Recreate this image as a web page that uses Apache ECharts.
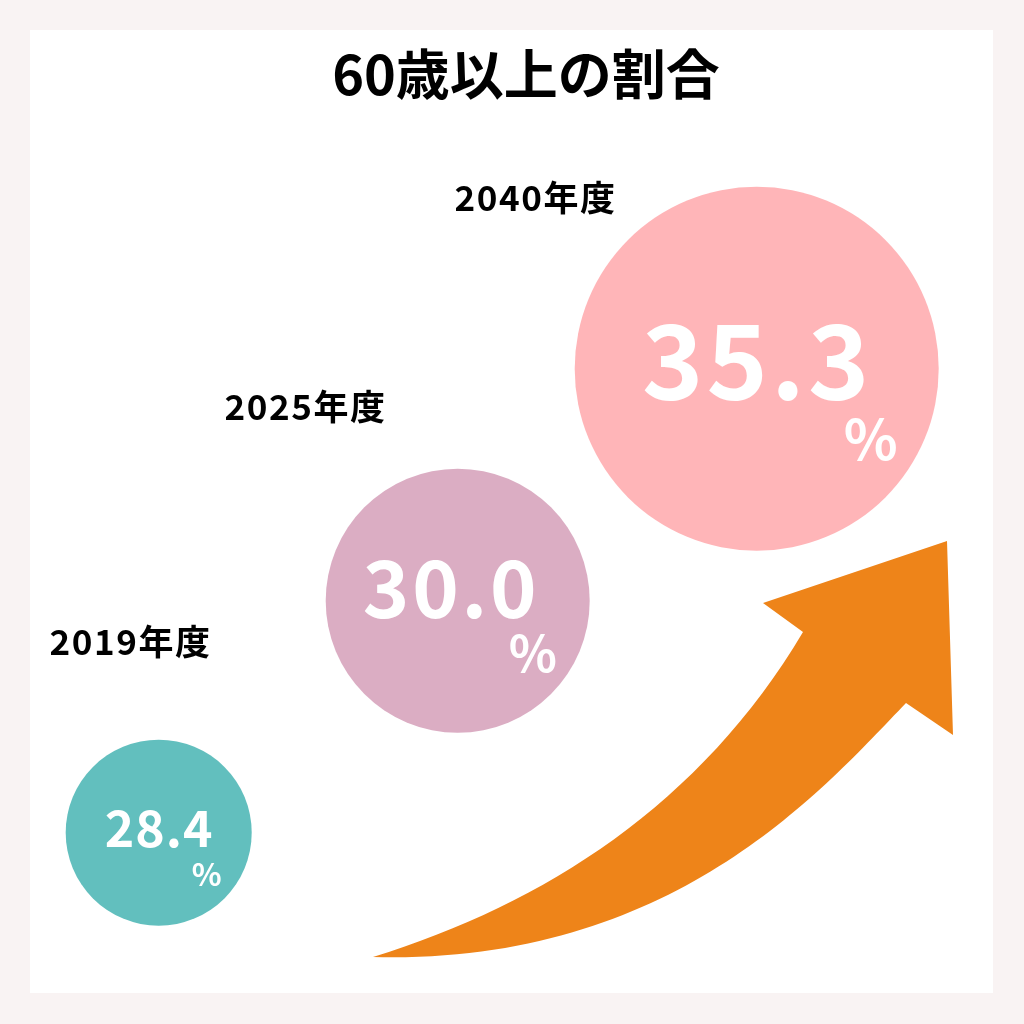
<!DOCTYPE html>
<html>
<head>
<meta charset="utf-8">
<script src="https://cdn.jsdelivr.net/npm/echarts@6/dist/echarts.min.js"></script>
<style>html,body{margin:0;padding:0;background:#f9f3f3;}#chart{width:1024px;height:1024px;}</style>
</head>
<body>
<div id="chart"></div>
<script>
// ---- data ----
const titleText = '60歳以上の割合';
const years = ['2019年度', '2025年度', '2040年度'];
const shares = [28.4, 30.0, 35.3];
const unitLabel = '%';

// ---- styles ----
const FONT = '"Noto Sans CJK JP", "Noto Sans", sans-serif';
const bubbleColors = ['#62bfbe', '#dbadc3', '#ffb5b8'];
const bubbleSizes = [186, 264, 364];
const numberFont = [50, 79, 104];
const numberSpacing = [0.5, 1.4, 1.6];
const numberOffset = [[0, -5], [-8, -13], [-1, -8]];
const pctFont = [31, 50, 56];
const pctOffset = [[48, 42], [75, 52], [114, 70]];
const yearOffset = [[-29, -191], [-153, -194], [-222, -171]];

// decorative growth arrow (not data)
const arrowPath = 'M373 957 C673 965 823 789 906 703 L953 735 L947 541 L763 603 L803 632 C701 804 545 904 373 957 Z';
const arrowSvg = 'data:image/svg+xml;charset=utf-8,' + encodeURIComponent(
  '<svg xmlns="http://www.w3.org/2000/svg" width="1024" height="1024" viewBox="0 0 1024 1024">' +
  '<path d="' + arrowPath + '" fill="#ee8419"/></svg>');

const shareCats = shares.map(v => v.toFixed(1));
// letter-spaced rich text (each character kept as real text)
const spaced = s => s.split('').map(c => '{s|' + c + '}').join('');

const chart = echarts.init(document.getElementById('chart'), null, {renderer: 'canvas'});

const bubbleData = years.map((y, i) => ({
  value: [y, shareCats[i]],
  symbolSize: bubbleSizes[i],
  itemStyle: {color: bubbleColors[i], opacity: 1},
  label: {fontSize: numberFont[i], offset: numberOffset[i],
          rich: {s: {fontSize: numberFont[i], padding: [0, numberSpacing[i], 0, numberSpacing[i]]}}}
}));
const pctData = years.map((y, i) => ({
  value: [y, shareCats[i]],
  label: {fontSize: pctFont[i], offset: pctOffset[i]}
}));
const yearData = years.map((y, i) => ({
  value: [y, shareCats[i]],
  label: {offset: yearOffset[i]}
}));

chart.setOption({
  backgroundColor: '#f9f3f3',
  animation: false,
  title: {
    text: titleText,
    left: 521,
    top: 42,
    textAlign: 'center',
    textStyle: {fontFamily: FONT, fontSize: 54, fontWeight: 'bold', color: '#000'}
  },
  graphic: [
    {type: 'rect', z: -10, shape: {x: 30, y: 30, width: 963, height: 963}, style: {fill: '#ffffff'}},
    {type: 'image', z: 1, style: {image: arrowSvg, x: 0, y: 0, width: 1024, height: 1024}}
  ],
  grid: {left: 158.7, right: 267.3, top: 368.7, bottom: 191.3},
  xAxis: {type: 'category', data: years, boundaryGap: false, show: false},
  yAxis: {type: 'category', data: shareCats, boundaryGap: false, show: false},
  series: [
    {
      type: 'scatter',
      symbol: 'circle',
      data: bubbleData,
      z: 2,
      itemStyle: {opacity: 1},
      label: {
        show: true, position: 'inside', color: '#ffffff', opacity: 1,
        fontFamily: FONT, fontWeight: 'bold',
        formatter: p => spaced(shares[p.dataIndex].toFixed(1))
      },
      emphasis: {disabled: true}
    },
    {
      type: 'scatter',
      symbolSize: 0,
      data: pctData,
      z: 3,
      itemStyle: {opacity: 1},
      label: {
        show: true, position: 'inside', color: '#ffffff', opacity: 1,
        fontFamily: FONT, fontWeight: 'bold',
        formatter: () => unitLabel
      },
      emphasis: {disabled: true}
    },
    {
      type: 'scatter',
      symbolSize: 0,
      data: yearData,
      z: 3,
      itemStyle: {opacity: 1},
      label: {
        show: true, position: 'inside', color: '#000000', opacity: 1,
        fontFamily: FONT, fontWeight: 'bold', fontSize: 35,
        formatter: p => spaced(years[p.dataIndex]),
        rich: {s: {fontSize: 35, padding: [0, 0.8, 0, 0.8]}}
      },
      emphasis: {disabled: true}
    }
  ]
});
</script>
</body>
</html>
